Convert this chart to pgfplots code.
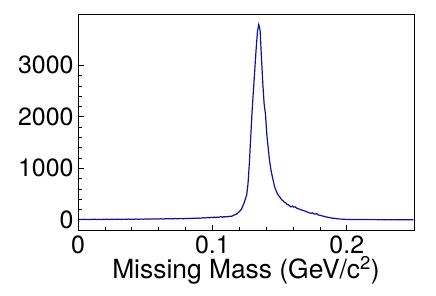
\documentclass[border=0pt]{standalone}
\usepackage{pgfplots}
\pgfplotsset{compat=1.18}
\usepackage{pgfplotstable}
\usepackage{fontspec}
\setmainfont{TeX Gyre Heros}
\definecolor{histblue}{RGB}{15,15,165}
\newcommand\tl{\fontsize{25}{29}\selectfont}
\pgfplotstableread{
y
5
8
4
6
9
5
7
3
6
8
5
7
10
6
4
8
7
5
9
6
8
10
7
5
9
11
6
8
7
10
9
6
12
8
7
11
9
13
8
10
12
9
11
14
10
8
13
12
10
15
12
14
11
16
13
15
18
12
17
14
16
19
15
13
20
17
18
22
16
19
21
18
24
20
17
23
26
21
19
25
22
27
24
28
23
30
26
29
32
27
33
30
36
40
34
38
45
37
42
48
40
52
44
50
46
55
58
49
60
54
62
57
65
70
68
85
95
105
120
145
170
200
260
320
400
480
700
1100
1600
2100
2500
2900
3300
3650
3790
3680
3150
2650
2250
2050
1650
1400
1150
980
850
730
620
560
500
460
430
390
370
340
330
300
290
270
250
265
245
250
230
215
210
195
190
180
170
165
150
140
130
125
135
115
110
120
95
90
85
75
70
62
55
50
45
40
35
30
28
24
20
18
15
12
11
10
8
7
6
5
6
4
5
4
5
3
4
4
3
4
3
2
3
3
2
3
2
2
3
2
2
1
2
2
1
2
1
1
2
1
1
1
2
1
1
0
1
1
1
0
1
1
0
1
0
1
0
1
}\histdata
\pgfplotstablecreatecol[expr={0.0005+0.001*\pgfplotstablerow}]{x}{\histdata}
\begin{document}
\begin{tikzpicture}
\useasboundingbox (0,0) rectangle (436bp,296bp);
\begin{axis}[
  at={(78bp,65.3bp)}, anchor=south west,
  scale only axis,
  width=336bp, height=216bp,
  xmin=0, xmax=0.25, ymin=-213, ymax=3984,
  xtick={0,0.1,0.2}, minor x tick num=4,
  ytick={0,1000,2000,3000}, minor y tick num=4,
  xticklabels={{\tl 0},{\tl 0.1},{\tl 0.2}},
  yticklabels={{\tl 0},{\tl 1000},{\tl 2000},{\tl 3000}},
  tick pos=left,
  tick align=inside,
  major tick length=6bp, minor tick length=3.5bp,
  scaled y ticks=false, scaled x ticks=false,
  xticklabel style={yshift=-2bp},
  yticklabel style={xshift=-1bp},
  xlabel={Missing Mass (GeV/c\textsuperscript{2})},
  xlabel style={font=\fontsize{26.5}{30}\selectfont, yshift=5bp},
  axis line style={line width=0.8bp},
  every tick/.style={black, line width=0.7bp},
  clip=true,
]
\addplot[histblue, line width=1.2bp] table[x=x, y=y] {\histdata};
\end{axis}
\end{tikzpicture}
\end{document}
